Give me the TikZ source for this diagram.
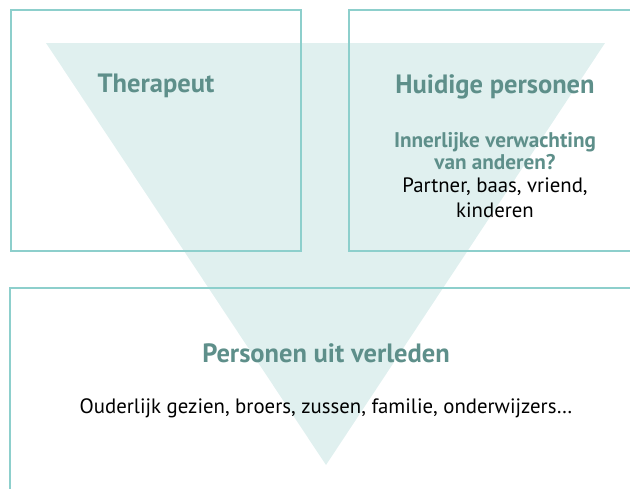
\documentclass[tikz,border=0pt]{standalone}
\usepackage{fontspec}
\setmainfont{PT Sans}
\usetikzlibrary{positioning}
\definecolor{rim}{HTML}{8DCFCC}
\definecolor{funnel}{HTML}{E0F0EF}
\definecolor{teal}{HTML}{5E8F8A}

\begin{document}
\begin{tikzpicture}[x=1pt,y=-1pt,
                    box/.style={draw=rim,line width=1.5pt,inner sep=0pt},
                    title/.style={text=teal,font=\fontsize{26.5}{30}\selectfont\bfseries,anchor=base},
                    sub/.style={text=teal,font=\fontsize{21.2}{22}\selectfont\bfseries,align=center,anchor=base},
                    body/.style={text=black,font=\fontsize{20.8}{25}\selectfont,align=center,anchor=base}]

  \clip (0,0) rectangle (630,488);
  \useasboundingbox (0,0) rectangle (630,488);

  % funnel
  \fill[funnel] (46,43) -- (605,43) -- (326,465) -- cycle;

  \node[box,minimum width=290pt,minimum height=241pt] (therapeut) at (156,130.5) {};
  \node[box,minimum width=300pt,minimum height=241pt] (huidig) at (499,130.5) {};
  \node[box,minimum width=640pt,minimum height=230pt] (verleden) at (330,403) {};

  % base anchor sits on the last line
  \node[title] (tTher) at (156,92) {Therapeut};
  \node[title] (tHuid) at (495,93) {Huidige personen};
  \node[sub] (vraag) at (495,169) {Innerlijke verwachting\\van anderen?};
  \node[body] (nu) at (495,217) {Partner, baas, vriend,\\kinderen};
  \node[title] (tVerl) at (326,362) {Personen uit verleden};
  \node[body] (vroeger) at (326,413) {Ouderlijk gezien, broers, zussen, familie, onderwijzers…};
\end{tikzpicture}
\end{document}
